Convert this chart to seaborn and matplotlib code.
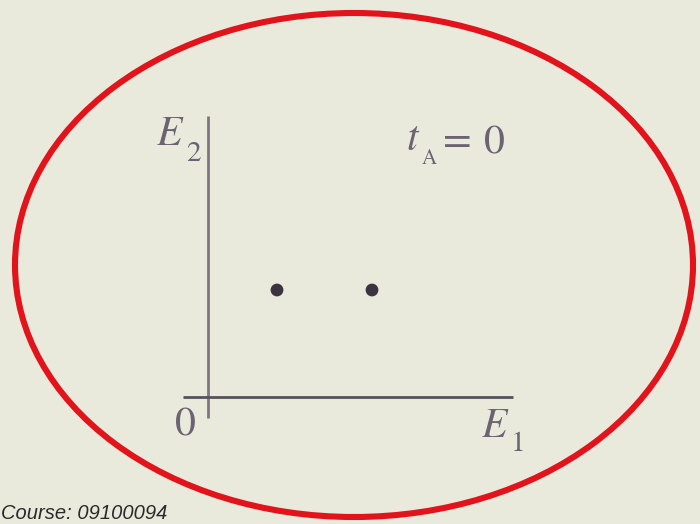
import matplotlib
matplotlib.use("Agg")
import matplotlib.pyplot as plt
from matplotlib.patches import Ellipse
import pandas as pd
import seaborn as sns

# Two states in the (E1, E2) energy plane at time t_A = 0
e1_values = [1.38, 3.28]
e2_values = [2.14, 2.14]

axis_symbol = "$E$"
x_subscript = "1"
y_subscript = "2"
origin_label = "0"
time_symbol = "$t$"
time_subscript = "A"
time_value = "0"
course_label = "Course: 09100094"

sns.set_theme(style="white")
plt.rcParams["mathtext.fontset"] = "stix"
plt.rcParams["font.family"] = ["STIXGeneral", "DejaVu Serif"]

bg = "#eaeadc"
ink = "#6b6272"

fig = plt.figure(figsize=(7.0, 5.24), dpi=100, facecolor=bg)
ax = fig.add_axes([0, 0, 1, 1])
ax.set_facecolor(bg)
ax.set_xlim(-4.16, 9.84)
ax.set_ylim(-2.54, 7.94)
ax.axis("off")

# axes of the energy plane
ax.plot([0, 0], [-0.42, 5.62], color="#7d7680", lw=2.0, solid_capstyle="butt")
ax.plot([-0.5, 6.1], [0, 0], color="#55535a", lw=2.0, solid_capstyle="butt")

# state points
df = pd.DataFrame({"E1": e1_values, "E2": e2_values})
sns.scatterplot(data=df, x="E1", y="E2", ax=ax, s=85, color="#3b3440",
                edgecolor="none", legend=False, zorder=3)

big = dict(fontsize=30, color=ink, va="baseline")
sub = dict(fontsize=21, color=ink, va="baseline", ha="left")

# vertical axis label E2
ax.text(-1.04, 5.04, axis_symbol, ha="left", **big)
ax.text(-0.44, 4.72, y_subscript, **sub)

# horizontal axis label E1
ax.text(5.46, -0.8, axis_symbol, ha="left", **big)
ax.text(6.06, -1.08, x_subscript, **sub)

# origin
ax.text(-0.46, -0.76, origin_label, ha="center", **big)

# time annotation t_A = 0
ax.text(3.96, 4.94, time_symbol, ha="left", **big)
ax.text(4.27, 4.66, time_subscript, fontsize=15, color=ink, va="baseline", ha="left")
ax.text(4.98, 4.9, "=", ha="center", **big)
ax.text(5.72, 4.88, time_value, ha="center", **big)

# highlight ring
ax.add_patch(Ellipse((2.92, 2.64), 13.56, 10.08, fill=False,
                     edgecolor="#e3131b", lw=4.4, zorder=4))

# course reference along the bottom edge
fig.text(1 / 700, 5 / 524, course_label, fontsize=14.5, style="italic",
         family=["Liberation Sans", "DejaVu Sans"], color="#2a2a2a",
         ha="left", va="baseline")

fig.savefig("out.png", dpi=100, facecolor=bg)
